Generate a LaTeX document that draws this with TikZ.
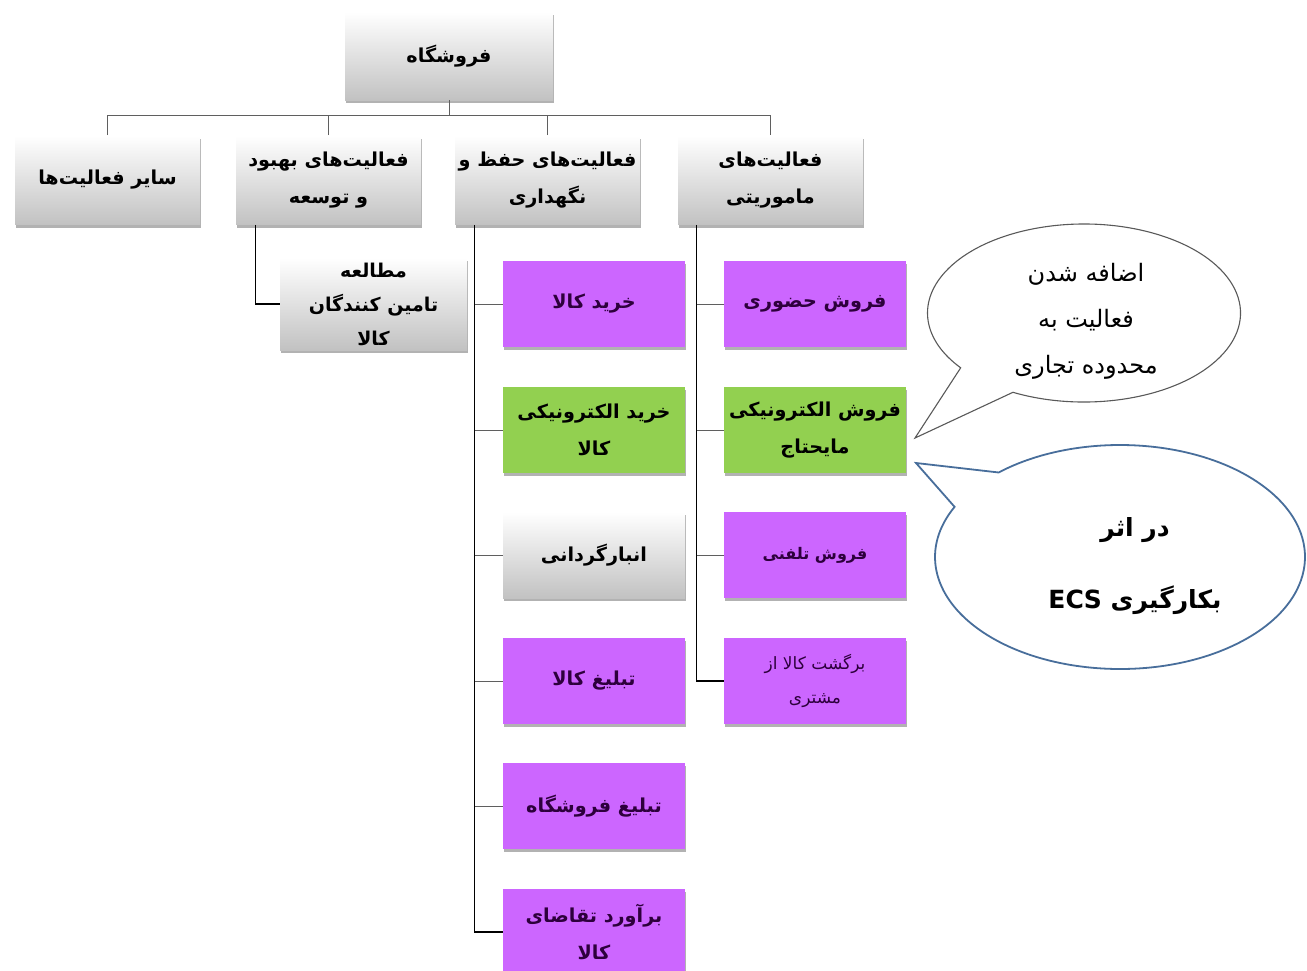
\documentclass[tikz,border=0pt]{standalone}
\usepackage{fontspec}
\usetikzlibrary{shadows,calc}
\TeXXeTstate=1
\newfontfamily\fa[Script=Arabic]{DejaVu Sans}
\newcommand{\rl}[1]{\beginR#1\endR}

\definecolor{boxpurple}{RGB}{204,102,255}
\definecolor{boxgreen}{RGB}{146,208,80}
\definecolor{inkpurple}{RGB}{45,0,60}
\definecolor{calloutblue}{RGB}{72,110,155}
\definecolor{linegray}{RGB}{95,95,95}

\begin{document}
\begin{tikzpicture}[x=0.5pt,y=-0.5pt,
  base/.style={inner sep=0pt, align=center,
    font=\fa\bfseries\fontsize{9.6}{18.5}\selectfont,
    drop shadow={shadow xshift=0.3pt, shadow yshift=-1.6pt, opacity=0.3, fill=black}},
  graybox/.style={base, top color=white, bottom color=black!24,
    minimum width=92.5pt, minimum height=44.5pt},
  rootbox/.style={graybox, minimum width=104pt, minimum height=44pt},
  colbox/.style={base, minimum width=91pt, minimum height=43pt},
  purplebox/.style={colbox, fill=boxpurple, text=inkpurple},
  greenbox/.style={colbox, fill=boxgreen, text=black},
  graycol/.style={colbox, top color=white, bottom color=black!24},
  bus/.style={draw=linegray, line width=0.5pt},
  trunk/.style={draw=black, line width=0.75pt},
  twig/.style={draw=linegray, line width=0.5pt},
  calloutA/.style={draw=black!65, line width=0.55pt, fill=white},
  calloutB/.style={draw=calloutblue, line width=0.9pt, fill=white}]

\useasboundingbox (0,0) rectangle (1307,970);

% top of the hierarchy
\node[rootbox] (root) at (449,56) {\rl{فروشگاه}};

\node[graybox] (other)   at (107.5,180) {\rl{سایر فعالیت‌ها}};
\node[graybox] (dev)     at (328.5,180) {\rl{فعالیت‌های بهبود}\\\rl{و توسعه}};
\node[graybox] (keep)    at (547.5,180) {\rl{فعالیت‌های حفظ و}\\\rl{نگهداری}};
\node[graybox] (mission) at (770.5,180) {\rl{فعالیت‌های}\\\rl{ماموریتی}};

% improvement branch
\node[graybox, minimum width=93.5pt, minimum height=46pt,
      font=\fa\bfseries\fontsize{9.5}{17}\selectfont] (study) at (373.5,304)
  {\rl{مطالعه}\\\rl{تامین کنندگان}\\\rl{کالا}};

% maintenance branch
\node[purplebox] (c1) at (594,304) {\rl{خرید کالا}};
\node[greenbox]  (c2) at (594,430) {\rl{خرید الکترونیکی}\\\rl{کالا}};
\node[graycol]   (c3) at (594,555) {\rl{انبارگردانی}};
\node[purplebox] (c4) at (594,681) {\rl{تبلیغ کالا}};
\node[purplebox] (c5) at (594,806) {\rl{تبلیغ فروشگاه}};
\node[purplebox] (c6) at (594,932) {\rl{برآورد تقاضای}\\\rl{کالا}};

% mission branch
\node[purplebox] (m1) at (815,304) {\rl{فروش حضوری}};
\node[greenbox]  (m2) at (815,430) {\rl{فروش الکترونیکی}\\\rl{مایحتاج}};
\node[purplebox, font=\fa\bfseries\fontsize{8}{14}\selectfont] (m3) at (815,555) {\rl{فروش تلفنی}};
\node[purplebox, font=\fa\fontsize{8.5}{17}\selectfont] (m4) at (815,681) {\rl{برگشت کالا از}\\\rl{مشتری}};

% connectors: root to first level
\coordinate (busline) at (0,115);
\draw[bus] (root.south) -- (root.south |- busline);
\draw[bus] (other.north) -- (other.north |- busline) -- (mission.north |- busline) -- (mission.north);
\draw[bus] (dev.north) -- (dev.north |- busline);
\draw[bus] (keep.north) -- (keep.north |- busline);

% connectors: first level to children
\coordinate (tD) at ([xshift=10pt]dev.south west);
\coordinate (tK) at ([xshift=10pt]keep.south west);
\coordinate (tM) at ([xshift=9.5pt]mission.south west);

\draw[trunk] (tD) |- (study.west);

\draw[trunk] (tK) -- (tK |- c6.west) -- (c6.west);
\foreach \n in {c1,c2,c3,c4,c5}
  \draw[twig] (tK |- \n.west) -- (\n.west);

\draw[trunk] (tM) -- (tM |- m4.west) -- (m4.west);
\foreach \n in {m1,m2,m3}
  \draw[twig] (tM |- \n.west) -- (\n.west);

% speech bubble: new activity
\coordinate (cU) at (1084,313);
\coordinate (tipU) at (915,438);
\draw[calloutA] (tipU) -- ($(cU)+(117:156.5 and 89)$)
  arc[start angle=117, end angle=-218, x radius=156.5, y radius=89] -- cycle;
\node[align=center, font=\fa\fontsize{12}{23}\selectfont] (noteU) at (1086,321)
  {\rl{اضافه شدن}\\\rl{فعالیت به}\\\rl{محدوده تجاری}};

% speech bubble: ECS
\coordinate (cL) at (1120,557);
\coordinate (tipL) at (916,463);
\draw[calloutB] (tipL) -- ($(cL)+(229:185 and 112)$)
  arc[start angle=229, end angle=566.6, x radius=185, y radius=112] -- cycle;
\node[align=center, font=\fa\bfseries\fontsize{12.5}{36}\selectfont] (noteL) at (1135,566)
  {\rl{در اثر}\\\rl{بکارگیری \beginL ECS\endL}};

\end{tikzpicture}
\end{document}
